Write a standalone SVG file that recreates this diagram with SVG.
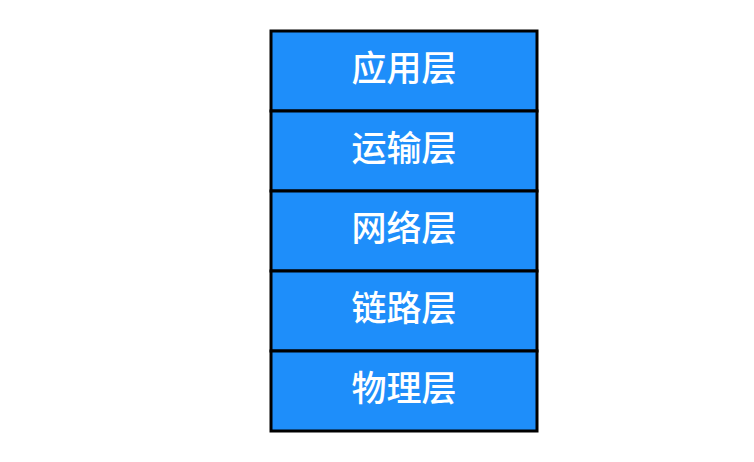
<svg xmlns="http://www.w3.org/2000/svg" width="754" height="462" viewBox="0 0 754 462">
<style>
.box{fill:#1E8EFA;stroke:#000;stroke-width:3}
.lbl{fill:#fff;font-family:"Noto Sans CJK SC","Liberation Sans",sans-serif;font-size:35px;font-weight:500;text-anchor:middle}
</style>
<rect width="754" height="462" fill="#fff"/>
<g id="app"><rect class="box" x="271" y="31" width="266" height="80"/><text class="lbl" x="404" y="81">应用层</text></g>
<g id="transport"><rect class="box" x="271" y="111" width="266" height="80"/><text class="lbl" x="404" y="161">运输层</text></g>
<g id="network"><rect class="box" x="271" y="191" width="266" height="80"/><text class="lbl" x="404" y="241">网络层</text></g>
<g id="link"><rect class="box" x="271" y="271" width="266" height="80"/><text class="lbl" x="404" y="321">链路层</text></g>
<g id="physical"><rect class="box" x="271" y="351" width="266" height="80"/><text class="lbl" x="404" y="401">物理层</text></g>
<g id="connectors"></g>
</svg>
